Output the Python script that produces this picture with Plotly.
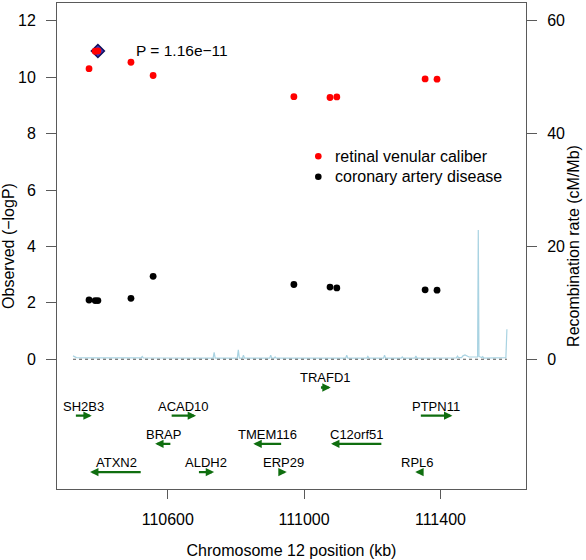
import plotly.graph_objects as go

# ---- data ----
snp_pos = [110369, 110387, 110395, 110492, 110557, 110970, 111076, 111096, 111355, 111390]
rvc_logp = [10.30, 10.92, 10.93, 10.53, 10.06, 9.31, 9.28, 9.30, 9.94, 9.93]
cad_logp = [2.10, 2.08, 2.08, 2.16, 2.94, 2.65, 2.56, 2.53, 2.46, 2.45]

top_pos = [110395]
top_logp = [10.93]
top_label = "P = 1.16e\u221211"

series_names = ["retinal venular caliber", "coronary artery disease"]
series_colors = ["#ff0000", "#000000"]

recomb_pos = [110322, 110326, 110332, 110360, 110400, 110450, 110500, 110522, 110525, 110528,
              110560, 110620, 110680, 110733, 110736, 110739, 110760, 110804, 110807, 110810,
              110819, 110822, 110825, 110860, 110899, 110902, 110905, 110912, 110915, 110918,
              110960, 111000, 111040, 111080, 111122, 111125, 111128, 111160, 111184, 111187,
              111190, 111233, 111236, 111239, 111260, 111285, 111288, 111291, 111325, 111328,
              111331, 111380, 111420, 111447, 111450, 111453, 111462, 111466, 111472, 111478,
              111484, 111500, 111509, 111511, 111513, 111521, 111524, 111527, 111550, 111580,
              111592, 111595]
recomb_rate = [0.6, 0.45, 0.3, 0.25, 0.22, 0.25, 0.25, 0.25, 0.5, 0.25,
               0.22, 0.2, 0.2, 0.2, 1.2, 0.2, 0.22, 0.2, 1.65, 0.2,
               0.2, 0.7, 0.2, 0.2, 0.2, 0.7, 0.2, 0.2, 0.4, 0.2,
               0.2, 0.2, 0.2, 0.2, 0.2, 0.7, 0.2, 0.2, 0.2, 0.5,
               0.2, 0.2, 0.7, 0.2, 0.2, 0.2, 0.4, 0.2, 0.2, 0.55,
               0.2, 0.2, 0.22, 0.25, 0.55, 0.3, 0.3, 0.6, 0.75, 0.55,
               0.4, 0.4, 0.4, 22.9, 0.5, 0.3, 0.45, 0.2, 0.2, 0.25,
               0.3, 5.3]

gene_names = ["SH2B3", "ATXN2", "BRAP", "ACAD10", "ALDH2", "TMEM116", "ERP29",
              "TRAFD1", "C12orf51", "RPL6", "PTPN11"]
gene_start = [110326, 110372, 110563, 110607, 110687, 110851, 110932, 111045, 111079, 111326, 111338]
gene_end = [110377, 110525, 110612, 110683, 110736, 110937, 110949, 111078, 111231, 111342, 111435]
gene_strand = ["+", "-", "-", "+", "+", "-", "+", "+", "-", "-", "+"]
gene_row = [2, 4, 3, 2, 4, 3, 4, 1, 3, 4, 2]

x_ticks = [110600, 111000, 111400]
y_ticks = [0, 2, 4, 6, 8, 10, 12]
y2_ticks = [0, 20, 40, 60]

# ---- styling ----
FONT = "Liberation Sans, Arial, sans-serif"
AXC = "#5a5a5a"
GREEN = "#0f6e0f"

fig = go.Figure()

fig.add_trace(go.Scatter(x=recomb_pos, y=recomb_rate, yaxis="y2", mode="lines",
                         line=dict(color="#a9d3e2", width=1.2), showlegend=False, hoverinfo="skip"))
fig.add_trace(go.Scatter(x=[recomb_pos[0], recomb_pos[-1]], y=[0, 0], yaxis="y2", mode="lines",
                         line=dict(color="#555555", width=1, dash="dot"), showlegend=False, hoverinfo="skip"))

fig.add_trace(go.Scatter(x=top_pos, y=top_logp, mode="markers",
                         marker=dict(symbol="diamond", size=10, color="#3a36c0",
                                     line=dict(color="#10105a", width=1.5)),
                         showlegend=False))
fig.add_trace(go.Scatter(x=snp_pos, y=rvc_logp, mode="markers", name=series_names[0],
                         marker=dict(color=series_colors[0], size=6.8), showlegend=False))
fig.add_trace(go.Scatter(x=snp_pos, y=cad_logp, mode="markers", name=series_names[1],
                         marker=dict(color=series_colors[1], size=6.8), showlegend=False))

annotations = []
shapes = []
annotations.append(dict(x=top_pos[0] + 107, y=top_logp[0] + 0.02, xref="x", yref="y",
                        text=top_label, showarrow=False, xanchor="left", yanchor="middle",
                        font=dict(family=FONT, size=15.5, color="black")))

for name, s, e, strand, row in zip(gene_names, gene_start, gene_end, gene_strand, gene_row):
    if strand == "+":
        tail, head = s, e
    else:
        tail, head = e, s
    annotations.append(dict(x=head, y=-row, ax=tail, ay=-row, xref="x", yref="y",
                            axref="x", ayref="y", text="", showarrow=True,
                            arrowhead=2, arrowsize=0.7, arrowwidth=2.4, arrowcolor=GREEN,
                            standoff=0, startstandoff=0))
    annotations.append(dict(x=(s + e) / 2, y=-row + 0.34, xref="x", yref="y", text=name,
                            showarrow=False, xanchor="center", yanchor="middle",
                            font=dict(family=FONT, size=13, color="black")))

# manual legend (paper coordinates of plot area: x 57..526, y 3..489 px)
PL, PW, PT, PH = 57, 469, 3, 486
leg_x_px = 318.3
leg_y_px = [156.3, 176.7]
for nm, col, ypx in zip(series_names, series_colors, leg_y_px):
    xp = (leg_x_px - PL) / PW
    yp = 1 - (ypx - PT) / PH
    shapes.append(dict(type="circle", xref="paper", yref="paper", xsizemode="pixel", ysizemode="pixel",
                       xanchor=xp, yanchor=yp, x0=-3.3, x1=3.3, y0=-3.3, y1=3.3,
                       fillcolor=col, line=dict(width=0)))
    annotations.append(dict(x=(332.5 - PL) / PW, y=yp, xref="paper", yref="paper", text=nm,
                            showarrow=False, xanchor="left", yanchor="middle",
                            font=dict(family=FONT, size=16, color="black")))

fig.update_layout(
    width=586, height=560,
    margin=dict(l=57, r=60, t=3, b=71, autoexpand=False),
    paper_bgcolor="white", plot_bgcolor="white",
    font=dict(family=FONT, size=16, color="black"),
    showlegend=False,
    annotations=annotations,
    shapes=shapes,
    xaxis=dict(range=[110275, 111651], tickvals=x_ticks, ticktext=[str(v) for v in x_ticks],
               ticks="outside", ticklen=9, tickcolor=AXC, tickwidth=1,
               showline=True, mirror=True, linecolor=AXC, linewidth=1, automargin=False,
               showgrid=False, zeroline=False, ticklabelstandoff=7,
               title=dict(text="Chromosome 12 position (kb)", standoff=17,
                          font=dict(family=FONT, size=16))),
    yaxis=dict(range=[-4.6, 12.63], tickvals=y_ticks, ticktext=[str(v) for v in y_ticks],
               ticks="outside", ticklen=10, tickcolor=AXC, tickwidth=1,
               showline=True, mirror=True, linecolor=AXC, linewidth=1, automargin=False,
               showgrid=False, zeroline=False, ticklabelstandoff=7,
               title=dict(text="Observed (\u2212logP)", standoff=1,
                          font=dict(family=FONT, size=16))),
    yaxis2=dict(range=[-23, 63.15], tickvals=y2_ticks, ticktext=[str(v) for v in y2_ticks],
                overlaying="y", side="right", automargin=False,
                ticks="outside", ticklen=10, tickcolor=AXC, tickwidth=1,
                showline=False, showgrid=False, zeroline=False, ticklabelstandoff=7,
                title=dict(text="Recombination rate (cM/Mb)", standoff=3,
                           font=dict(family=FONT, size=16))),
)

fig.write_html("out.html", config={"displayModeBar": False},
               post_script="document.body.style.margin='0px';")
